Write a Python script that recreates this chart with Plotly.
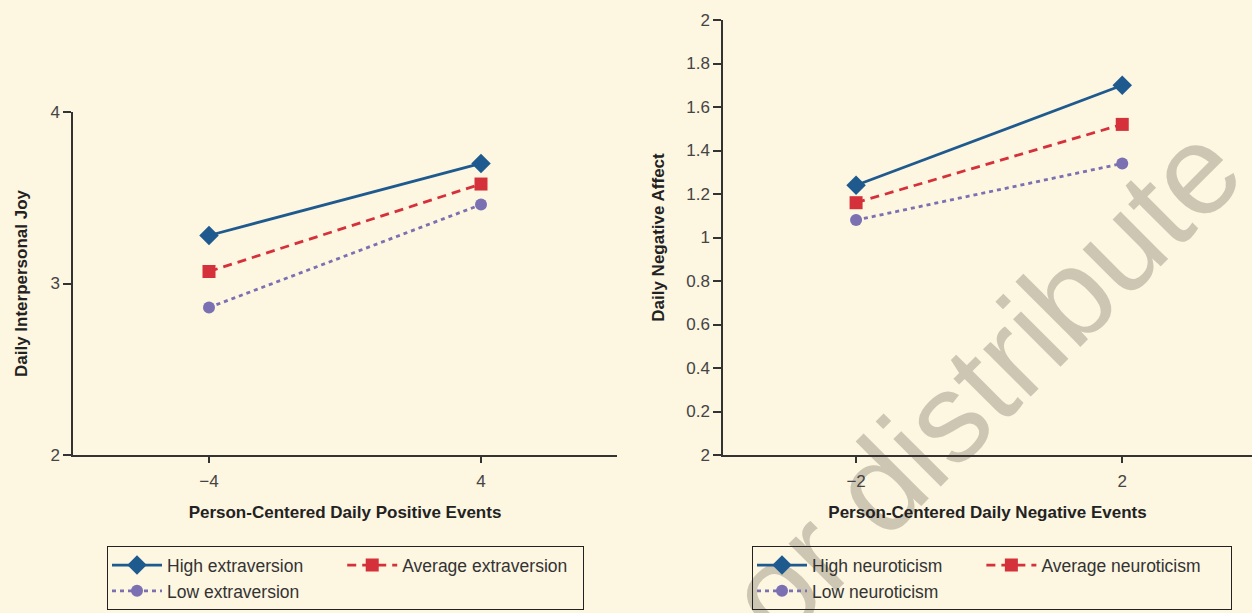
import plotly.graph_objects as go

W, H = 1252, 613

# ---- data ----
x_left = [-4, 4]
joy_high = [3.28, 3.70]
joy_avg = [3.07, 3.58]
joy_low = [2.86, 3.46]

x_right = [-2, 2]
neg_high = [1.24, 1.70]
neg_avg = [1.16, 1.52]
neg_low = [1.08, 1.34]

NB = "\u00a0"
left_names = ["High extraversion" + NB * 7, "Average extraversion" + NB * 2, "Low extraversion"]
right_names = ["High neuroticism" + NB * 7, "Average neuroticism" + NB * 5, "Low neuroticism"]

right_yticks = [0, 0.2, 0.4, 0.6, 0.8, 1, 1.2, 1.4, 1.6, 1.8, 2]
right_yticktext = ["2", "0.2", "0.4", "0.6", "0.8", "1", "1.2", "1.4", "1.6", "1.8", "2"]

BLUE = "#1f5a8f"
RED = "#d5313b"
PURPLE = "#7a70b2"
BG = "#fdf6e1"
AX = "#333333"
FONT = "Liberation Sans"

styles = [
    dict(color=BLUE, dash="solid", symbol="diamond", size=15, group="a"),
    dict(color=RED, dash="9px,6px", symbol="square", size=13, group="b"),
    dict(color=PURPLE, dash="4px,4px", symbol="circle", size=12, group="a"),
]

fig = go.Figure()

for vals, name, st in zip([joy_high, joy_avg, joy_low], left_names, styles):
    fig.add_trace(go.Scatter(
        x=x_left, y=vals, name=name, mode="lines+markers",
        line=dict(color=st["color"], width=2.8, dash=st["dash"]),
        marker=dict(symbol=st["symbol"], size=st["size"], color=st["color"]),
        xaxis="x", yaxis="y", legend="legend", legendgroup="L" + st["group"],
    ))

for vals, name, st in zip([neg_high, neg_avg, neg_low], right_names, styles):
    fig.add_trace(go.Scatter(
        x=x_right, y=vals, name=name, mode="lines+markers",
        line=dict(color=st["color"], width=2.8, dash=st["dash"]),
        marker=dict(symbol=st["symbol"], size=st["size"], color=st["color"]),
        xaxis="x2", yaxis="y2", legend="legend2", legendgroup="R" + st["group"],
    ))

def px_x(p):
    return p / W

def px_y(p):
    return (H - p) / H

axis_common = dict(
    showgrid=False, zeroline=False, showline=True, linecolor=AX, linewidth=1.5,
    ticks="outside", tickcolor=AX, tickwidth=1.5, automargin=False,
    tickfont=dict(family=FONT, size=17, color="#444444"),
)

title_font = dict(family=FONT, size=17, color="#222222")

legend_common = dict(
    orientation="h", traceorder="grouped",
    bgcolor="rgba(0,0,0,0)", bordercolor="#222222", borderwidth=1.2,
    font=dict(family=FONT, size=17.5, color="#333333"),
    itemwidth=50, xanchor="left", yanchor="top", itemclick=False,
)

WM_X, WM_Y = 975, 373

fig.update_layout(
    width=W, height=H,
    margin=dict(l=0, r=0, t=0, b=0, autoexpand=False),
    paper_bgcolor=BG, plot_bgcolor=BG,
    showlegend=True,
    xaxis=dict(
        **axis_common, domain=[px_x(73), px_x(617)], range=[-8, 8],
        tickvals=x_left, ticklen=6, ticklabelstandoff=4, anchor="y",
        title=dict(text="<b>Person-Centered Daily Positive Events</b>", font=title_font, standoff=16),
    ),
    yaxis=dict(
        **axis_common, domain=[px_y(455), px_y(112)], range=[2, 4],
        tickvals=[2, 3, 4], ticklen=8, anchor="x",
        title=dict(text="<b>Daily Interpersonal Joy</b>", font=title_font, standoff=18),
    ),
    xaxis2=dict(
        **axis_common, domain=[px_x(723), 1.0], range=[-4, 3.95],
        tickvals=x_right, ticklen=6, ticklabelstandoff=4, anchor="y2",
        title=dict(text="<b>Person-Centered Daily Negative Events</b>", font=title_font, standoff=16),
    ),
    yaxis2=dict(
        **axis_common, domain=[px_y(455), px_y(20)], range=[0, 2],
        tickvals=right_yticks, ticktext=right_yticktext, ticklen=8, anchor="x2",
        title=dict(text="<b>Daily Negative Affect</b>", font=title_font, standoff=17),
    ),
    legend=dict(**legend_common, x=px_x(107), y=px_y(546)),
    legend2=dict(**legend_common, x=px_x(752), y=px_y(546)),
    shapes=[dict(
        type="rect", xref="paper", yref="paper", layer="below",
        x0=px_x(WM_X - 5), x1=px_x(WM_X + 5), y0=px_y(WM_Y + 5), y1=px_y(WM_Y - 5),
        line=dict(width=0), fillcolor="rgba(0,0,0,0)",
        label=dict(
            text="or distribute", textangle=-45, textposition="middle center",
            font=dict(family=FONT, size=127, color="#cdc6b2"),
        ),
    )],
)

fig.write_html(
    "out.html",
    config={"displayModeBar": False},
    post_script="document.body.style.margin='0';document.body.style.overflow='hidden';",
)
